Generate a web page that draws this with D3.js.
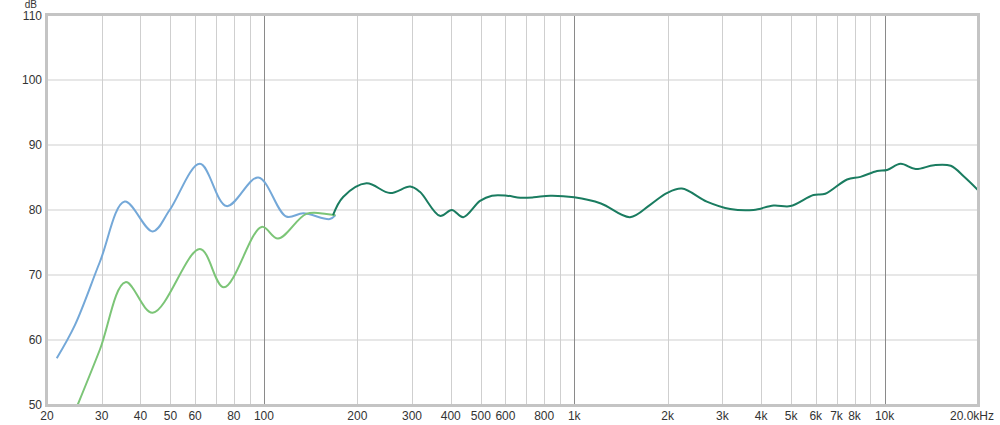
<!DOCTYPE html>
<html>
<head>
<meta charset="utf-8">
<script src="https://cdn.jsdelivr.net/npm/d3@7"></script>
<style>
    body { margin: 0; background: #fff; }
    svg { display: block; font-family: "Liberation Sans", Arial, sans-serif; }
</style>
</head>
<body>
<svg id="chart" width="1000" height="425"></svg>
<script>
// frequency response, two measurements; above ~170 Hz they coincide
const blueFreq = [21.5, 24.6, 29.6, 35.6, 43.8, 49.7, 62.2, 75.8, 95.9, 118, 134, 163, 170];
const blueDb   = [57.2, 62.3, 72.0, 81.3, 76.7, 80.0, 87.1, 80.6, 85.0, 79.0, 79.5, 78.6, 79.2];

const greenFreq = [25.1, 29.6, 35.8, 43.8, 62.2, 74.3, 98.3, 111, 137, 159, 170];
const greenDb   = [50.0, 58.5, 68.9, 64.2, 74.0, 68.1, 77.4, 75.6, 79.4, 79.4, 79.2];

const commonFreq = [167, 180, 214, 255, 296, 318, 369, 403, 439, 497, 543, 607, 670, 740, 837, 1000,
    1219, 1512, 1756, 1987, 2222, 2674, 3180, 3780, 4390, 4970, 5900, 6440, 7570, 8360, 9460,
    10190, 11260, 12590, 14430, 16340, 18050, 19950];
const commonDb = [79.2, 82.0, 84.1, 82.6, 83.6, 82.8, 79.1, 80.0, 78.9, 81.4, 82.2, 82.2, 81.9, 81.95, 82.2, 81.95,
    81.0, 78.9, 80.8, 82.6, 83.3, 81.3, 80.15, 80.0, 80.7, 80.6, 82.3, 82.5, 84.7, 85.1, 86.0,
    86.15, 87.1, 86.3, 86.9, 86.8, 85.1, 83.1];

const yTicks = [50, 60, 70, 80, 90, 100, 110];
const xGrid = [20, 30, 40, 50, 60, 70, 80, 90, 100, 200, 300, 400, 500, 600, 700, 800, 900, 1000,
    2000, 3000, 4000, 5000, 6000, 7000, 8000, 9000, 10000, 20000];
const xDecades = [100, 1000, 10000];
const xLabels = [20, 30, 40, 50, 60, 80, 100, 200, 300, 400, 500, 600, 800, 1000,
    2000, 3000, 4000, 5000, 6000, 7000, 8000, 10000, 20000];
const xLabelText = ['20', '30', '40', '50', '60', '80', '100', '200', '300', '400', '500', '600', '800', '1k',
    '2k', '3k', '4k', '5k', '6k', '7k', '8k', '10k', '20.0kHz'];

const BLUE = '#74a8d8';
const GREEN = '#7cc577';
const TEAL = '#1a7c60';
const GRID = '#cfcfcf';
const DECADE = '#8a8a8a';

(function() {
    var svg = d3.select('#chart');
    var left = 47, top = 15, right = 978, bottom = 405;

    var x = d3.scaleLog().domain([20, 20000]).range([left, right]);
    var y = d3.scaleLinear().domain([50, 110]).range([bottom, top]);

    var grid = svg.append('g');
    grid.selectAll('line.h').data(yTicks).enter().append('line')
        .attr('x1', left).attr('x2', right)
        .attr('y1', d => y(d)).attr('y2', d => y(d))
        .style('stroke', GRID).style('stroke-width', 1);

    grid.selectAll('line.v').data(xGrid).enter().append('line')
        .attr('x1', d => Math.round(x(d)) + 0.5).attr('x2', d => Math.round(x(d)) + 0.5)
        .attr('y1', top).attr('y2', bottom)
        .style('stroke', d => xDecades.indexOf(d) >= 0 ? DECADE : GRID)
        .style('stroke-width', 1);

    var line = d3.line()
        .x(d => x(d[0]))
        .y(d => y(d[1]))
        .curve(d3.curveCatmullRom.alpha(0.5));

    svg.append('clipPath').attr('id', 'plot-clip')
        .append('rect').attr('x', left).attr('y', top)
        .attr('width', right - left).attr('height', bottom - top);

    var curves = svg.append('g').attr('clip-path', 'url(#plot-clip)');
    curves.append('path')
        .datum(blueFreq.map((f, i) => [f, blueDb[i]]))
        .attr('d', line)
        .style('fill', 'none').style('stroke', BLUE).style('stroke-width', 2);
    curves.append('path')
        .datum(greenFreq.map((f, i) => [f, greenDb[i]]))
        .attr('d', line)
        .style('fill', 'none').style('stroke', GREEN).style('stroke-width', 2);
    curves.append('path')
        .datum(commonFreq.map((f, i) => [f, commonDb[i]]))
        .attr('d', line)
        .style('fill', 'none').style('stroke', TEAL).style('stroke-width', 2);

    // frame
    svg.append('rect')
        .attr('x', left - 0.5).attr('y', top - 0.5)
        .attr('width', right - left + 1).attr('height', bottom - top + 1)
        .style('fill', 'none').style('stroke', '#c4c4c4').style('stroke-width', 3);

    // y labels
    svg.selectAll('text.y').data(yTicks).enter().append('text')
        .attr('x', 42).attr('y', d => y(d) + (d === 110 ? 5 : 4))
        .attr('text-anchor', 'end')
        .style('font-size', '12px').style('fill', '#333')
        .text(d => d);
    svg.append('text')
        .attr('x', 37).attr('y', 8)
        .attr('text-anchor', 'end')
        .style('font-size', '10px').style('fill', '#333')
        .text('dB');

    // x labels
    svg.selectAll('text.x').data(xLabels).enter().append('text')
        .attr('x', (d, i) => x(d) + (i === xLabels.length - 1 ? -6 : 0))
        .attr('y', 420)
        .attr('text-anchor', 'middle')
        .style('font-size', '12px').style('fill', '#333')
        .text((d, i) => xLabelText[i]);
})();
</script>
</body>
</html>
